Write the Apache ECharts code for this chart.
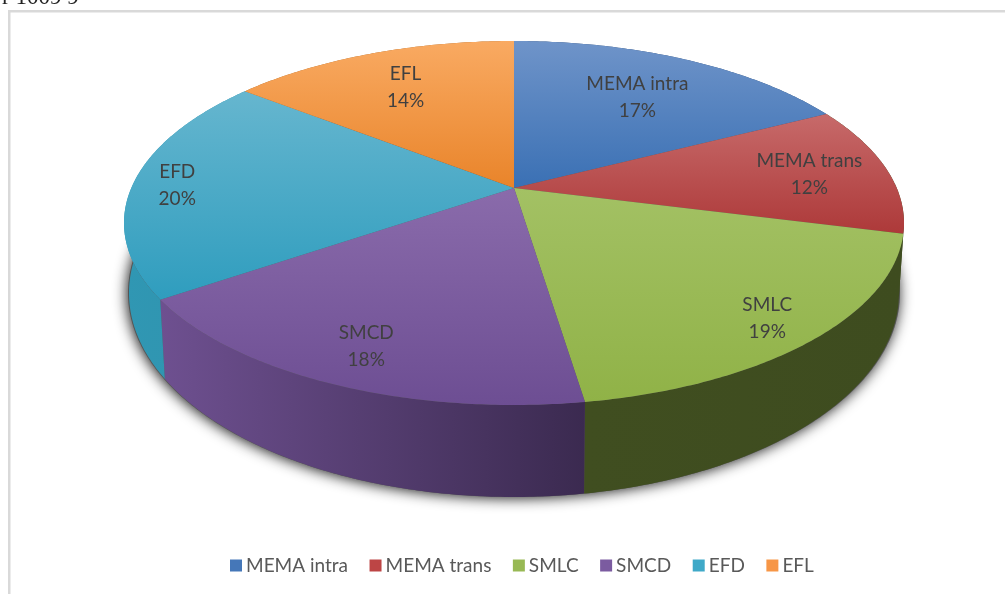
<!DOCTYPE html>
<html>
<head>
<meta charset="utf-8">
<style>
html, body { margin: 0; padding: 0; background: #fff; }
#chart { width: 1005px; height: 594px; }
</style>
<script src="https://cdn.jsdelivr.net/npm/echarts@6/dist/echarts.min.js"></script>
</head>
<body>
<div id="chart"></div>
<script>
// pie values, clockwise from 12 o'clock
var categories = ['MEMA intra', 'MEMA trans', 'SMLC', 'SMCD', 'EFD', 'EFL'];
var shares = [17.4, 11.6, 18.6, 17.8, 20.2, 14.4];

// colours: face gradient (top, bottom), wall gradient (left, right)
var faceColors = [
    ['#6f94c9', '#3a70b4'],
    ['#c76a6a', '#ad3939'],
    ['#a3c164', '#90b247'],
    ['#8a6bab', '#6d4e93'],
    ['#66b6cf', '#2f9dbe'],
    ['#f9aa62', '#e9842a']
];
var wallColors = [
    ['#2c4a75', '#2c4a75'],
    ['#3f4d20', '#3f4d20'],
    ['#404e20', '#3e4c1f'],
    ['#6e5090', '#3b2a50'],
    ['#3097b3', '#2f93ae'],
    ['#a8611f', '#a8611f']
];
var legendColors = ['#4577b8', '#bd4545', '#98b954', '#7b5ba0', '#3fa9c8', '#f79646'];

// layout of the tilted disc
var top_ = {cx: 514, cy: 223, rx: 390, ry: 182};
var bottom_ = {cx: 514, cy: 293, rx: 385, ry: 204};
var tilt = -0.192;  // perspective shift of the pie centre inside the ellipse
var labelReach = [0.69, 0.79, 0.865, 0.83, 0.885, 0.73];

var total = shares.reduce(function (a, b) { return a + b; }, 0);

// angle -> normalised point on the projected disc
function project(angle, r) {
    var x = r * Math.sin(angle), y = -r * Math.cos(angle);
    var d = 1 + tilt * y;
    return [x * Math.sqrt(1 - tilt * tilt) / d, (y + tilt) / d];
}
function onEllipse(p, e) {
    return [e.cx + p[0] * e.rx, e.cy + p[1] * e.ry];
}
function arc(a0, a1, e) {
    var pts = [], n = Math.max(2, Math.ceil((a1 - a0) / 0.01));
    for (var i = 0; i <= n; i++) {
        pts.push(onEllipse(project(a0 + (a1 - a0) * i / n, 1), e));
    }
    return pts;
}
function vertical(c) {
    return new echarts.graphic.LinearGradient(0, 0, 0, 1, [{offset: 0, color: c[0]}, {offset: 1, color: c[1]}]);
}
function horizontal(c) {
    return new echarts.graphic.LinearGradient(0, 0, 1, 0, [{offset: 0, color: c[0]}, {offset: 1, color: c[1]}]);
}

function renderSlice(params, api) {
    var i = params.seriesIndex;
    var a0 = api.value(0) / total * Math.PI * 2;
    var a1 = (api.value(0) + api.value(1)) / total * Math.PI * 2;
    var topRim = arc(a0, a1, top_);
    var lowRim = arc(a0, a1, bottom_).reverse();
    var centre = onEllipse(project(0, 0), top_);
    var mid = onEllipse(project((a0 + a1) / 2, labelReach[i]), top_);
    var children = [
        {
            type: 'polygon', z2: 1,
            shape: {points: topRim.concat(lowRim)},
            style: {fill: horizontal(wallColors[i])}
        },
        {
            type: 'polygon', z2: 2,
            shape: {points: [centre].concat(topRim)},
            style: {fill: vertical(faceColors[i])}
        },
        {
            type: 'text', z2: 3,
            style: {
                x: mid[0], y: mid[1] + 2,
                text: categories[i] + '\n' + Math.round(api.value(1) / total * 100) + '%',
                fill: '#404040',
                font: '19px Lato',
                lineHeight: 27,
                align: 'center',
                verticalAlign: 'middle'
            }
        }
    ];
    if (i === 0) {
        // soft shadow under the whole pie
        children.unshift({
            type: 'polygon', z2: 0,
            shape: {points: arc(0, Math.PI * 2, {cx: bottom_.cx, cy: bottom_.cy, rx: bottom_.rx + 1, ry: bottom_.ry})},
            style: {fill: '#555', shadowColor: 'rgba(0,0,0,0.9)', shadowBlur: 14, shadowOffsetX: -1, shadowOffsetY: 1}
        });
    }
    return {type: 'group', children: children};
}

var before = 0;
var series = categories.map(function (name, i) {
    var item = {
        name: name,
        type: 'custom',
        coordinateSystem: 'none',
        silent: true,
        itemStyle: {color: legendColors[i]},
        renderItem: renderSlice,
        data: [[before, shares[i]]]
    };
    before += shares[i];
    return item;
});

var chart = echarts.init(document.getElementById('chart'));
chart.setOption({
    animation: false,
    legend: {
        left: 225,
        top: 551,
        data: categories,
        icon: 'rect',
        itemWidth: 12,
        itemHeight: 12,
        itemGap: 21.5,
        selectedMode: false,
        textStyle: {fontFamily: 'Lato', fontSize: 19, color: '#595959', padding: [0, 0, 0, -1]}
    },
    graphic: [
        {type: 'rect', shape: {x: 8, y: 10, width: 997, height: 2.5}, style: {fill: '#d9d9d9'}},
        {type: 'rect', shape: {x: 8, y: 10, width: 2.5, height: 584}, style: {fill: '#d9d9d9'}},
        {type: 'text', x: 2, y: 9, style: {text: 'r 1009 9', fill: '#222', font: '23px "Liberation Serif"', verticalAlign: 'bottom'}}
    ],
    series: series
});
</script>
</body>
</html>
